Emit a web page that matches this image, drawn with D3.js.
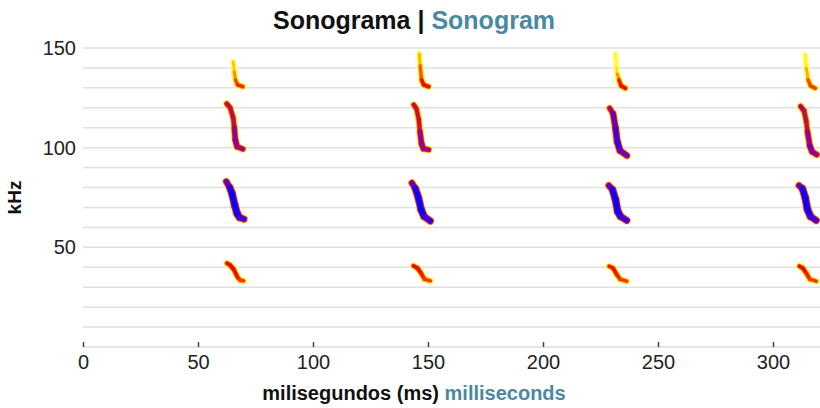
<!DOCTYPE html>
<html>
<head>
<meta charset="utf-8">
<script src="https://cdn.jsdelivr.net/npm/d3@7"></script>
<style>
  html, body { margin: 0; padding: 0; background: #fff; }
  svg { display: block; font-family: "Helvetica Neue", Helvetica, Arial, "Liberation Sans", sans-serif; }
</style>
</head>
<body>
<svg id="chart" width="820" height="408"></svg>
<script>
// ---- Data ----
const titleParts = ["Sonograma | ", "Sonogram"];
const xLabelParts = ["milisegundos (ms) ", "milliseconds"];
const yLabel = "kHz";
const xTicks = [0, 50, 100, 150, 200, 250, 300];
const yTickLabels = [50, 100, 150];
const yGrid = [10, 20, 30, 40, 50, 60, 70, 80, 90, 100, 110, 120, 130, 140, 150];

// Each track: [time ms, frequency kHz, relative intensity 0..1]
const call1 = [
  [[62.6,42,0.5],[64,41,0.55],[65.5,39,0.55],[67.2,35,0.5],[68.3,33.6,0.45],[69.8,33.2,0.4]],
  [[62.3,83,0.7],[63.8,80,0.95],[64.8,77,1],[66,71,1],[67,67,1],[68,65,0.95],[70,64.2,0.8]],
  [[62.5,122,0.6],[64,120,0.68],[65.3,115,0.55],[65.8,110,0.68],[66.2,104,0.75],[67,100.5,0.75],[69.5,99.3,0.62]],
  [[65.3,143,0.12],[65.8,138,0.22],[66.3,134,0.35],[67.2,131.5,0.45],[69.5,130.6,0.45]]
];
const call2 = [
  [[143.7,40.7,0.5],[145.5,39.5,0.55],[147,37,0.5],[148.5,34,0.45],[151,33.2,0.4]],
  [[143,82.3,0.7],[144.5,79.5,0.95],[145.8,75,1],[147,69,1],[148.3,65.5,1],[151,63.2,0.8]],
  [[143.8,121.5,0.6],[145,119.5,0.65],[146,114,0.5],[146.5,108,0.68],[147.2,102,0.75],[148,99.5,0.75],[150.3,99,0.62]],
  [[146.2,147,0.12],[146.6,141,0.3],[147.2,134,0.45],[148.2,131.5,0.55],[150.3,130.6,0.5]]
];
const call3 = [
  [[228.8,40.5,0.5],[230.5,39.5,0.5],[232,36.5,0.5],[233.5,34,0.45],[236.4,33,0.4]],
  [[228.6,81,0.7],[230.2,79,0.95],[231.5,74,1],[232.5,68,1],[233.7,65.5,1],[236.4,63.5,0.8]],
  [[229,119.8,0.6],[230.5,117,0.75],[231.5,110,0.85],[232.3,103,0.9],[233.5,98.5,0.9],[236.5,96,0.7]],
  [[231.5,147,0],[232,140,0.05],[232.3,137,0.15],[233,134,0.4],[234,131,0.55],[235.8,129.8,0.5]]
];
const call4 = [
  [[311.5,40.5,0.5],[313,39.5,0.55],[314.5,37,0.5],[316,34,0.45],[318.8,33,0.4]],
  [[311.3,81,0.7],[312.8,79.5,0.95],[314,75,1],[315,69,1],[316.3,65.5,1],[318.8,63.5,0.8]],
  [[312,120.7,0.6],[313.5,118.5,0.7],[314.5,113,0.55],[315,108,0.65],[316,101,0.78],[317,98,0.8],[319,96.5,0.65]],
  [[314,146.5,0],[314.5,140,0.1],[315.3,134,0.35],[316.3,131,0.45],[318.4,129.8,0.4]]
];
const calls = [call1, call2, call3, call4];

// ---- Layout ----
const svg = d3.select("#chart");
const W = 820, H = 408;
const margin = { left: 83, right: 1, top: 48, bottom: 61 };

const x = d3.scaleLinear().domain([0, 320]).range([margin.left, W - margin.right]);
const y = d3.scaleLinear().domain([0, 150]).range([H - margin.bottom, margin.top]);

const teal = "#4b89a1";

// grid
svg.append("g").selectAll("line").data(yGrid).join("line")
  .attr("x1", x(0)).attr("x2", W)
  .attr("y1", d => y(d)).attr("y2", d => y(d))
  .attr("stroke", "#e0e0e0").attr("stroke-width", 1.5);

// y tick labels
svg.append("g").selectAll("text").data(yTickLabels).join("text")
  .attr("x", 76).attr("y", d => y(d)).attr("dy", "0.35em")
  .attr("text-anchor", "end").attr("font-size", 20).attr("fill", "#222")
  .text(d => d);

// x axis
const xAxis = svg.append("g").attr("transform", `translate(0,${y(0)})`)
  .call(d3.axisBottom(x).tickValues(xTicks).tickSizeInner(-5).tickSizeOuter(0).tickPadding(8));
xAxis.select(".domain").attr("stroke", "#dcdcdc").attr("stroke-width", 1.5).attr("d", `M${x(0)},0H${W}`);
xAxis.selectAll(".tick line").attr("stroke", "#444").attr("stroke-width", 1.5);
xAxis.selectAll(".tick text").attr("font-size", 20).attr("fill", "#222")
  .attr("font-family", "'Helvetica Neue', Helvetica, Arial, 'Liberation Sans', sans-serif");
xAxis.selectAll(".tick text").attr("dy", "0.71em");

// sonogram tracks
const defs = svg.append("defs");
defs.append("filter").attr("id", "soft").attr("x", "-20%").attr("y", "-20%").attr("width", "140%").attr("height", "140%")
  .append("feGaussianBlur").attr("stdDeviation", 0.7);

const color = d3.scaleLinear()
  .domain([0, 0.25, 0.5, 0.75, 1])
  .range(["#ffff50", "#ffa200", "#ee1000", "#8400b0", "#0000ff"])
  .clamp(true);

const segments = [];
calls.forEach(call => call.forEach(track => {
  for (let i = 0; i < track.length - 1; i++) {
    const a = track[i], b = track[i + 1];
    segments.push({ a, b, v: (a[2] + b[2]) / 2 });
  }
}));

const layers = [
  { off: -0.75, extra: 3.6, op: 0.55 },
  { off: -0.5, extra: 2.5, op: 0.9 },
  { off: -0.25, extra: 1.4, op: 1 },
  { off: 0, extra: 0, op: 1 }
];
const marks = svg.append("g").attr("filter", "url(#soft)");
layers.forEach(L => {
  marks.append("g").selectAll("line").data(segments).join("line")
    .attr("x1", d => x(d.a[0])).attr("y1", d => y(d.a[1]))
    .attr("x2", d => x(d.b[0])).attr("y2", d => y(d.b[1]))
    .attr("stroke", d => color(d.v + L.off))
    .attr("stroke-opacity", L.op)
    .attr("stroke-linecap", "round")
    .attr("stroke-width", d => 2.2 + 2.8 * d.v + L.extra);
});

// title
const title = svg.append("text").attr("x", 414).attr("y", 29)
  .attr("text-anchor", "middle").attr("font-size", 25).attr("font-weight", "bold");
title.append("tspan").attr("fill", "#111").text(titleParts[0]);
title.append("tspan").attr("fill", teal).text(titleParts[1]);

// x label
const xl = svg.append("text").attr("x", 414).attr("y", 400)
  .attr("text-anchor", "middle").attr("font-size", 20).attr("font-weight", "bold");
xl.append("tspan").attr("fill", "#111").text(xLabelParts[0]);
xl.append("tspan").attr("fill", teal).text(xLabelParts[1]);

// y label
svg.append("text").attr("transform", `translate(21,${(y(0) + y(150)) / 2}) rotate(-90)`)
  .attr("text-anchor", "middle").attr("font-size", 19).attr("font-weight", "bold").attr("fill", "#111")
  .text(yLabel);
</script>
</body>
</html>
